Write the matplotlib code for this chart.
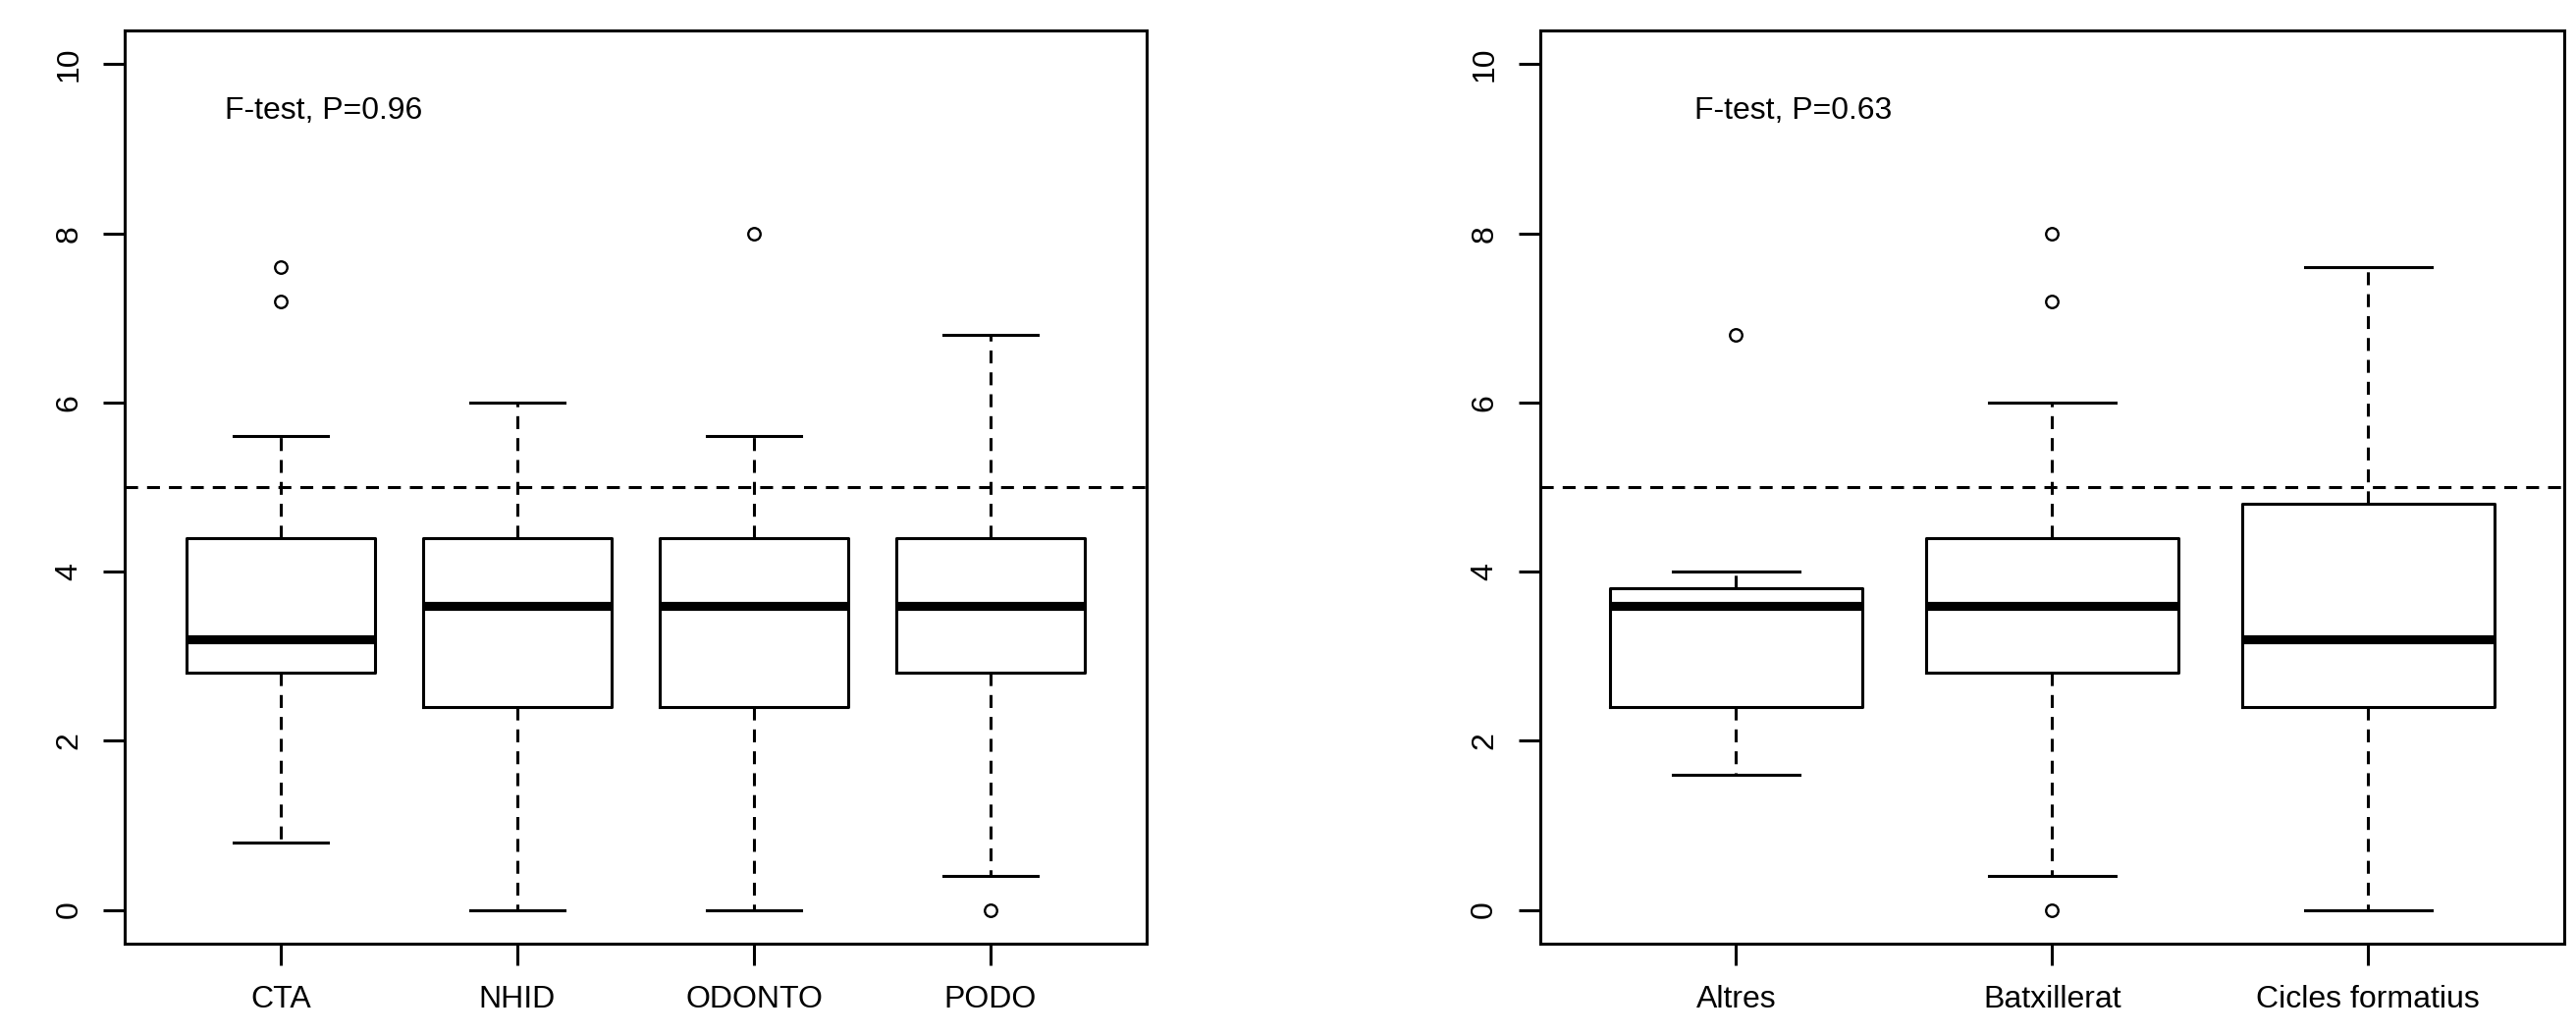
import matplotlib
matplotlib.use("Agg")
import matplotlib.pyplot as plt

plt.rcParams['font.family'] = ['Liberation Sans', 'DejaVu Sans']

# left panel: degree
deg_names = ['CTA', 'NHID', 'ODONTO', 'PODO']
deg_lo = [0.8, 0.0, 0.0, 0.4]
deg_q1 = [2.8, 2.4, 2.4, 2.8]
deg_med = [3.2, 3.6, 3.6, 3.6]
deg_q3 = [4.4, 4.4, 4.4, 4.4]
deg_hi = [5.6, 6.0, 5.6, 6.8]
deg_out = [[7.2, 7.6], [], [8.0], [0.0]]
deg_p = 'F-test, P=0.96'

# right panel: previous studies
prev_names = ['Altres', 'Batxillerat', 'Cicles formatius']
prev_lo = [1.6, 0.4, 0.0]
prev_q1 = [2.4, 2.8, 2.4]
prev_med = [3.6, 3.6, 3.2]
prev_q3 = [3.8, 4.4, 4.8]
prev_hi = [4.0, 6.0, 7.6]
prev_out = [[6.8], [7.2, 8.0, 0.0], []]
prev_p = 'F-test, P=0.63'

cutoff = 5.0

LW = 2.2
DASH = (0, (4.3, 3.0))
FS = 23


def make_stats(names, lo, q1, med, q3, hi, out):
    st = []
    for i in range(len(names)):
        st.append({'label': names[i], 'whislo': lo[i], 'q1': q1[i], 'med': med[i],
                   'q3': q3[i], 'whishi': hi[i], 'fliers': out[i]})
    return st


def panel(ax, names, lo, q1, med, q3, hi, out, ptxt):
    n = len(names)
    st = make_stats(names, lo, q1, med, q3, hi, out)
    ax.bxp(st, positions=range(1, n + 1), widths=0.8,
           boxprops=dict(color='black', linewidth=LW),
           medianprops=dict(color='black', linewidth=LW * 3, solid_capstyle='butt'),
           whiskerprops=dict(color='black', linewidth=LW, linestyle=DASH),
           capprops=dict(color='black', linewidth=LW),
           capwidths=0.4,
           flierprops=dict(marker='o', markerfacecolor='none', markeredgecolor='black',
                           markersize=9, markeredgewidth=1.7, linestyle='none'))
    ax.axhline(cutoff, color='black', linewidth=LW, linestyle=DASH, zorder=0)
    ax.set_xlim(0.5 - 0.04 * n, n + 0.5 + 0.04 * n)
    ax.set_ylim(-0.4, 10.4)
    ax.set_yticks([0, 2, 4, 6, 8, 10])
    ax.set_yticklabels(['0', '2', '4', '6', '8', '10'], rotation=90, va='center')
    ax.set_xticks(range(1, n + 1))
    ax.set_xticklabels(names)
    ax.tick_params(axis='both', length=16, width=LW, labelsize=FS, pad=14)
    for s in ax.spines.values():
        s.set_linewidth(LW)
    ax.text(1.18, 9.45, ptxt, ha='center', va='center', fontsize=FS)


fig = plt.figure(figsize=(26.24, 10.54), dpi=100)
ax1 = fig.add_axes([0.0484, 0.0882, 0.3967, 0.8824])
ax2 = fig.add_axes([0.5979, 0.0882, 0.3975, 0.8824])

panel(ax1, deg_names, deg_lo, deg_q1, deg_med, deg_q3, deg_hi, deg_out, deg_p)
panel(ax2, prev_names, prev_lo, prev_q1, prev_med, prev_q3, prev_hi, prev_out, prev_p)

fig.savefig('out.png', dpi=100)
